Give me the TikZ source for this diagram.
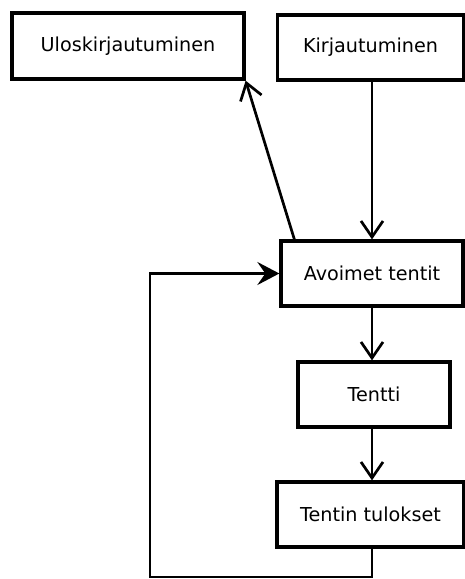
\documentclass[tikz,border=0pt]{standalone}
\usepackage{fontspec}
\setmainfont{DejaVu Sans}
\usetikzlibrary{arrows.meta}
\begin{document}
\begin{tikzpicture}[x=1pt,y=-1pt,
  box/.style={draw=black,line width=3.3pt,fill=white,inner sep=0pt,
    font=\fontsize{19.2}{22}\selectfont},
  conn/.style={line width=2.7pt,draw=black},
  vtip/.style={-{Straight Barb[length=16pt,width=22pt,line width=2.7pt]}},
  ftip/.style={-{Stealth[length=22pt,width=23pt,inset=8pt]}}]
\useasboundingbox (0,0) rectangle (465,579);
\fill[white] (0,0) rectangle (465,579);
% boxes
\node[box,minimum width=232pt,minimum height=66pt] (ulos) at (128,46) {Uloskirjautuminen};
\node[box,minimum width=186pt,minimum height=65pt] (kirj) at (370.5,47.5) {Kirjautuminen};
\node[box,minimum width=182pt,minimum height=65pt] (avo) at (372,273.5) {Avoimet tentit};
\node[box,minimum width=152pt,minimum height=65pt] (tentti) at (374,394.5) {Tentti};
\node[box,minimum width=187pt,minimum height=65pt] (tulos) at (370.5,514.5) {Tentin tulokset};
% connectors
\draw[conn,vtip] (avo.north |- kirj.south) -- (avo.north);
\draw[conn,vtip] ([xshift=15pt]avo.north west) -- (ulos.south east);
\draw[conn,vtip] (avo.south) -- (avo.south |- tentti.north);
\draw[conn,vtip] (avo.south |- tentti.south) -- (avo.south |- tulos.north);
\coordinate (loopc) at (150,577);
\draw[conn,ftip] (avo.south |- tulos.south) |- (loopc) |- (avo.west);
\end{tikzpicture}
\end{document}
